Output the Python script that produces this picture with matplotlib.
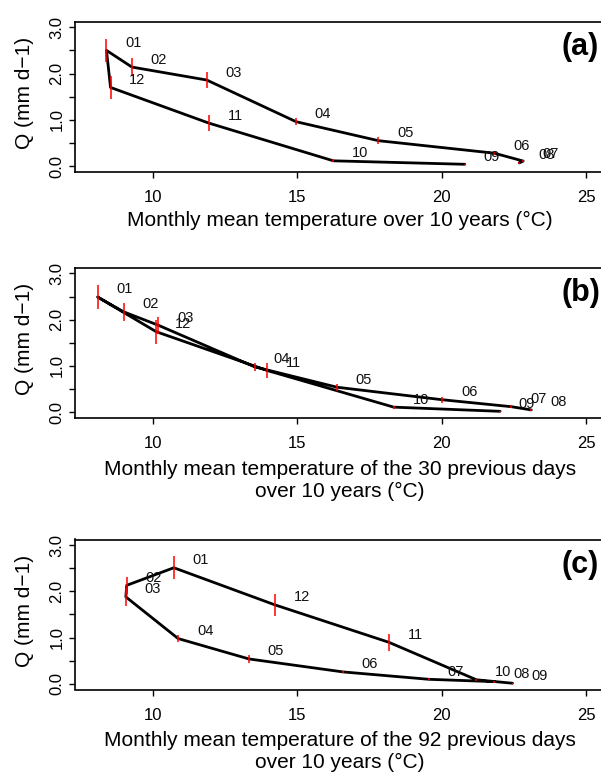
import matplotlib
matplotlib.use("Agg")
import matplotlib.pyplot as plt
import numpy as np

# ---------------- data ----------------
months = ["01", "02", "03", "04", "05", "06", "07", "08", "09", "10", "11", "12"]

# panel (a): monthly mean temperature over 10 years
temp_a = [8.40, 9.28, 11.87, 14.96, 17.81, 21.82, 22.82, 22.68, 20.80, 16.25, 11.94, 8.54]
q_a    = [2.50, 2.14, 1.86, 0.96, 0.55, 0.28, 0.11, 0.07, 0.04, 0.115, 0.93, 1.70]
err_a  = [0.25, 0.19, 0.17, 0.08, 0.07, 0.05, 0.02, 0.02, 0.01, 0.03, 0.17, 0.25]

# panel (b): 30 previous days
temp_b = [8.09, 8.99, 10.19, 13.53, 16.38, 20.02, 22.41, 23.10, 22.02, 18.34, 13.97, 10.12]
q_b    = [2.49, 2.17, 1.88, 0.98, 0.54, 0.27, 0.12, 0.05, 0.02, 0.11, 0.90, 1.74]
err_b  = [0.25, 0.19, 0.18, 0.09, 0.08, 0.06, 0.03, 0.02, 0.01, 0.03, 0.17, 0.26]

# panel (c): 92 previous days
temp_c = [10.73, 9.10, 9.07, 10.88, 13.33, 16.58, 19.56, 21.82, 22.45, 21.20, 18.17, 14.22]
q_c    = [2.51, 2.13, 1.88, 0.98, 0.54, 0.26, 0.10, 0.05, 0.015, 0.09, 0.90, 1.71]
err_c  = [0.25, 0.19, 0.19, 0.08, 0.08, 0.03, 0.02, 0.02, 0.01, 0.02, 0.18, 0.24]

# hydrological year order for the path: Sep -> Aug
path_order = ["09", "10", "11", "12", "01", "02", "03", "04", "05", "06", "07", "08"]

xlabels = [
    "Monthly mean temperature over 10 years (°C)",
    "Monthly mean temperature of the 30 previous days\nover 10 years (°C)",
    "Monthly mean temperature of the 92 previous days\nover 10 years (°C)",
]
panel_labels = ["(a)", "(b)", "(c)"]
ylabel = "Q (mm d\u22121)"
xticks = [10, 15, 20, 25]
xtick_labels = ["10", "15", "20", "25"]
yticks = [0.0, 0.5, 1.0, 1.5, 2.0, 2.5, 3.0]
ytick_labels = ["0.0", "", "1.0", "", "2.0", "", "3.0"]

panels = [(temp_a, q_a, err_a), (temp_b, q_b, err_b), (temp_c, q_c, err_c)]

# ---------------- figure ----------------
plt.rcParams["font.family"] = ["Liberation Sans", "DejaVu Sans"]

W, H = 601, 772
fig = plt.figure(figsize=(W / 100, H / 100), dpi=100)

ax_left, ax_right = 74.7, 605.0
ax_h = 150.0
tops = [21.7, 267.8, 539.5]
xlab_size = 15
line_px = 1.2 * xlab_size * 100 / 72.0

idx = [months.index(m) for m in path_order]

for p, (tx, qy, er) in enumerate(panels):
    top = tops[p]
    ax = fig.add_axes([ax_left / W, 1 - (top + ax_h) / H, (ax_right - ax_left) / W, ax_h / H])
    tx = np.asarray(tx); qy = np.asarray(qy); er = np.asarray(er)

    ax.plot(tx[idx], qy[idx], color="black", lw=2.0, solid_joinstyle="round",
            solid_capstyle="round", zorder=2)
    ax.vlines(tx, qy - er, qy + er, color="#ff0000", lw=1.1, zorder=3)
    for m, xv, yv in zip(months, tx, qy):
        ax.annotate(m, (xv, yv), xytext=(13.5, 2.5), textcoords="offset points",
                    fontsize=10.5, ha="left", va="baseline", color="#111111", zorder=4)

    ax.set_xlim(7.3, 25.65)
    ax.set_ylim(-0.12, 3.12)
    ax.set_xticks(xticks)
    ax.set_xticklabels(xtick_labels, fontsize=12)
    ax.set_yticks(yticks)
    ax.set_yticklabels(ytick_labels, fontsize=12, rotation=90, va="center")
    ax.tick_params(axis="x", length=4.3, width=1.0, pad=9.0, color="black")
    ax.tick_params(axis="y", length=4.3, width=1.0, pad=3.0, color="black")
    for s in ax.spines.values():
        s.set_linewidth(1.2)
        s.set_color("black")

    # panel label
    ax.text((561.7 - ax_left) / (ax_right - ax_left), 1 - 25.0 / ax_h, panel_labels[p],
            transform=ax.transAxes, fontsize=22, fontweight="bold",
            ha="left", va="center")

    # axis titles: one text per x title, placed by the baseline of its last line
    bottom = top + ax_h
    nlines = xlabels[p].count("\n") + 1
    base_last = bottom + 54.0 + (nlines - 1) * line_px
    fig.text((ax_left + ax_right) / 2 / W, 1 - base_last / H, xlabels[p],
             fontsize=xlab_size, ha="center", va="baseline", linespacing=1.2,
             multialignment="center")
    fig.text(24.3 / W, 1 - (top + ax_h / 2 - 4.0) / H, ylabel, fontsize=15,
             rotation=90, ha="center", va="center")

fig.savefig("out.png", dpi=100)
